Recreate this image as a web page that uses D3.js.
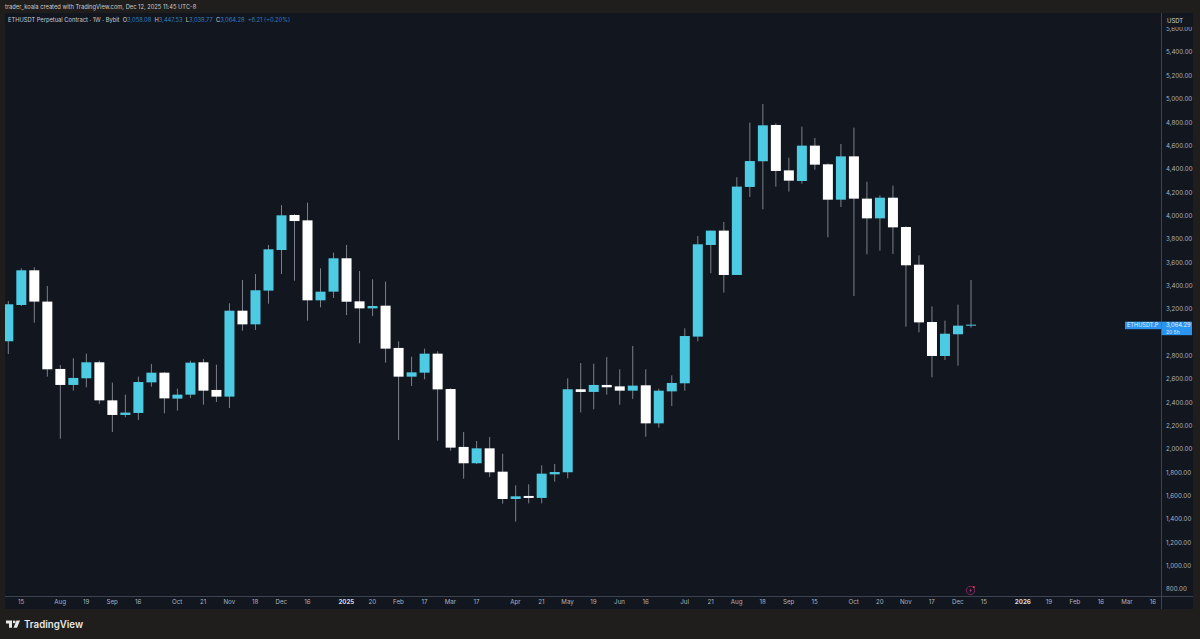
<!DOCTYPE html>
<html><head><meta charset="utf-8">
<script src="https://cdn.jsdelivr.net/npm/d3@7/dist/d3.min.js"></script>
<style>
html,body{margin:0;padding:0;background:#1f1e1d;overflow:hidden}
text{font-family:Inter,Roboto,"Liberation Sans",sans-serif}
</style></head><body>
<svg id="c" width="1200" height="639"></svg>
<script>
const opens=[2922,3233,3530,3262,2685,2548,2605,2742,2416,2291,2308,2570,2653,2431,2465,2742,2505,2448,3184,3067,3356,3704,4004,3958,3273,3347,3633,3264,3204,3227,2865,2619,2653,2816,2513,2017,1877,2005,1805,1571,1597,1580,1782,1800,2511,2488,2548,2536,2499,2545,2219,2493,2562,2962,3747,3870,3490,4244,4464,4775,4386,4295,4598,4438,4135,4506,4144,3975,4152,3901,3578,3087,2796,2982,3058.08];
const highs=[3267,3547,3556,3396,2719,2776,2816,2756,2568,2465,2619,2728,2659,2516,2756,2770,2722,3247,3447,3498,3747,4089,4010,4109,3547,3681,3747,3524,3453,3433,2922,2790,2859,2836,2519,2145,2068,2102,1959,1688,1697,1859,1871,2605,2736,2730,2787,2682,2882,2682,2516,2630,3033,3824,3870,3944,4327,4795,4955,4789,4495,4761,4663,4446,4612,4752,4289,4172,4255,3907,3658,3221,3099,3236,3447.53];
const lows=[2813,3224,3082,2619,2088,2499,2528,2385,2145,2271,2248,2533,2305,2328,2436,2379,2402,2351,3013,3019,3244,3498,3441,3099,3213,3293,3147,2905,3139,2739,2076,2539,2596,2071,1985,1745,1871,1760,1531,1377,1534,1534,1720,1748,2313,2339,2465,2379,2428,2105,2182,2368,2499,2922,3504,3339,3490,4158,4052,4247,4204,4272,4392,3813,4072,3310,3667,3698,3670,3047,2999,2613,2762,2713,3038.77];
const closes=[3239,3530,3262,2682,2548,2608,2742,2416,2291,2311,2573,2653,2433,2465,2739,2499,2448,3184,3067,3359,3710,4001,3952,3273,3347,3633,3261,3204,3224,2859,2619,2656,2816,2510,2011,1877,2005,1800,1571,1594,1580,1788,1802,2511,2488,2548,2528,2499,2542,2219,2499,2565,2967,3753,3870,3490,4247,4466,4772,4381,4298,4598,4435,4135,4506,4144,3975,4152,3898,3573,3084,2796,2987,3056,3064.28];
const candleIndex=opens.map((_,i)=>i);

const priceTicks=[800,1000,1200,1400,1600,1800,2000,2200,2400,2600,2800,3200,3400,3600,3800,4000,4200,4400,4600,4800,5000,5200,5400,5600];
const timeTickIndex=[1,4,6,8,10,13,15,17,19,21,23,26,28,30,32,34,36,39,41,43,45,47,49,52,54,56,58,60,62,65,67,69,71,73,75,78,80,82,84,86,88];
const timeTickLabels=["15","Aug","19","Sep","16","Oct","21","Nov","18","Dec","16","2025","20","Feb","17","Mar","17","Apr","21","May","19","Jun","16","Jul","21","Aug","18","Sep","15","Oct","20","Nov","17","Dec","15","2026","19","Feb","16","Mar","16"];
const boldLabels=["2025","2026"];

const BG="#1f1e1d",PANEL="#12161f",LINE="#3c4250",TEXT="#aeb2bc",UP="#4dcbe3",DOWN="#ffffff",WICK="#7c808a",BLUE="#2a94ee";
const L=5,R=1193,T=13,B=609,AX=1161.5,TB=596;

const x=d3.scaleLinear().domain([0,74]).range([8.3,971]);
const y=d3.scaleLinear().domain([800,5000]).range([589,98.7]);

const svg=d3.select("#c");
svg.append("rect").attr("width",1200).attr("height",639).attr("fill",BG);
svg.append("rect").attr("x",L).attr("y",T).attr("width",R-L).attr("height",B-T).attr("fill",PANEL);
const defs=svg.append("defs");
defs.append("clipPath").attr("id","plot").append("rect").attr("x",L).attr("y",T).attr("width",AX-L).attr("height",TB-T);
defs.append("clipPath").attr("id","pax").append("rect").attr("x",AX).attr("y",T).attr("width",R-AX).attr("height",TB-T);

svg.append("text").attr("x",5).attr("y",9).attr("font-size",5.75).attr("fill","#c8cad0")
  .text("trader_koala created with TradingView.com, Dec 12, 2025 11:45 UTC-8");

const g=svg.append("g").attr("clip-path","url(#plot)");
g.selectAll("line.w").data(candleIndex).join("line").attr("class","w")
  .attr("x1",i=>x(i)).attr("x2",i=>x(i)).attr("y1",i=>y(highs[i])).attr("y2",i=>y(lows[i]))
  .attr("stroke",WICK).attr("stroke-width",1);
const bw=10;
g.selectAll("rect.b").data(candleIndex).join("rect").attr("class","b")
  .attr("x",i=>x(i)-bw/2).attr("width",bw)
  .attr("y",i=>y(Math.max(opens[i],closes[i])))
  .attr("height",i=>Math.max(1,Math.abs(y(opens[i])-y(closes[i]))))
  .attr("fill",i=>closes[i]>=opens[i]?UP:DOWN);

// axes
const yAxis=d3.axisRight(y).tickValues(priceTicks).tickSize(0).tickPadding(4.5).tickFormat(d3.format(",.2f"));
const ya=svg.append("g").attr("clip-path","url(#pax)").append("g").attr("transform",`translate(${AX},0)`).call(yAxis);
ya.select(".domain").remove();
ya.selectAll("text").attr("font-size",6.2).attr("fill",TEXT).style("font-family","Inter,Roboto,sans-serif");

const xAxis=d3.axisBottom(x).tickValues(timeTickIndex).tickSize(0).tickPadding(4)
  .tickFormat(d=>timeTickLabels[timeTickIndex.indexOf(d)]);
const xa=svg.append("g").attr("transform",`translate(-0.7,${TB})`).call(xAxis);
xa.select(".domain").remove();
xa.selectAll("text").attr("font-size",6.2).attr("fill",TEXT).style("font-family","Inter,Roboto,sans-serif")
  .attr("font-weight",function(){return boldLabels.includes(this.textContent)?700:400})
  .attr("fill",function(){return boldLabels.includes(this.textContent)?"#d6d8de":TEXT});

svg.append("line").attr("x1",AX).attr("x2",AX).attr("y1",T).attr("y2",B).attr("stroke",LINE);
svg.append("line").attr("x1",L).attr("x2",R).attr("y1",TB+.5).attr("y2",TB+.5).attr("stroke",LINE);

// USDT badge
svg.append("rect").attr("x",1164).attr("y",16).attr("width",28).attr("height",11).attr("rx",1).attr("fill","#14171d");
svg.append("text").attr("x",1167).attr("y",23.2).attr("font-size",5.9).attr("fill","#d0d2d8").text("USDT");

// legend
const lg=svg.append("text").attr("x",8).attr("y",22).attr("font-size",5.75).attr("fill","#c8cad0");
const ohlc=[["ETHUSDT Perpetual Contract · 1W · Bybit  ",0],["O",0],[d3.format(",.2f")(opens[74]),1],["  H",0],[d3.format(",.2f")(highs[74]),1],["  L",0],[d3.format(",.2f")(lows[74]),1],["  C",0],[d3.format(",.2f")(closes[74]),1],["  +6.21 (+0.20%)",1]];
ohlc.forEach(([t,b])=>lg.append("tspan").attr("fill",b?"#2f7fc4":"#c8cad0").style("white-space","pre").text(t));

// price label
const pc=y(closes[74]);
svg.append("rect").attr("x",1125).attr("y",pc-3).attr("width",AX-1125).attr("height",7.5).attr("fill",BLUE);
svg.append("rect").attr("x",AX).attr("y",pc-3).attr("width",R-AX-1).attr("height",13.5).attr("fill",BLUE);
svg.append("text").attr("x",1127).attr("y",pc+2.8).attr("font-size",5.6).attr("fill","#e6f2ff").text("ETHUSDT.P");
svg.append("text").attr("x",1166).attr("y",pc+2.6).attr("font-size",5.8).attr("fill","#e6f2ff").text("3,064.29");
svg.append("text").attr("x",1166).attr("y",pc+9.4).attr("font-size",5).attr("fill","#d5e8fb").text("20 5h");

// event icon
const ic=svg.append("g").attr("transform","translate(970.5,590.5)");
ic.append("circle").attr("r",4.2).attr("fill","none").attr("stroke","#a0266a").attr("stroke-width",.8);
ic.append("path").attr("d","M0.8,-2.4 L-1.4,0.3 L-0.1,0.3 L-0.8,2.4 L1.4,-0.4 L0.1,-0.4 Z").attr("fill","#b03a78");
ic.append("circle").attr("cx",3.4).attr("cy",-3.4).attr("r",1).attr("fill","#f23645");

// logo
const lo=svg.append("g").attr("transform","translate(6,620.5)").attr("fill","#e8e8e8");
lo.append("path").attr("d","M0,0 H6 V7.2 H3 V3 H0 Z");
lo.append("circle").attr("cx",8.2).attr("cy",1.4).attr("r",1.4);
lo.append("path").attr("d","M10.5,0 H14 L11,7.2 H7.5 Z");
svg.append("text").attr("x",24).attr("y",627.6).attr("font-size",9.7).attr("font-weight",600).attr("fill","#e8e8e8").text("TradingView");
</script>
</body></html>
